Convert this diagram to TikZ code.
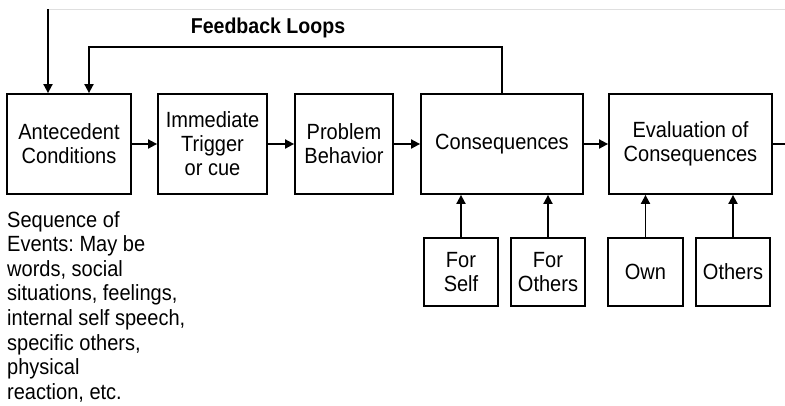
\documentclass[tikz,border=0pt]{standalone}
\usepackage{fontspec}
\setmainfont[FakeStretch=0.91]{Liberation Sans}
\usetikzlibrary{arrows.meta}
\frenchspacing
\tikzset{
  box/.style={draw, line width=1.8pt, inner sep=0pt, align=center,
    font=\fontsize{22}{24}\selectfont},
  link/.style={line width=1.8pt, -{Triangle[length=9pt,width=9pt]}},
  wire/.style={line width=1.8pt},
}
\begin{document}
\begin{tikzpicture}[x=1pt,y=-1pt]
\useasboundingbox (0,0) rectangle (785,405);
% faint top edge rule
\draw[gray!25, line width=0.8pt] (48,9) -- (785,9);

% main chain of boxes
\node[box, minimum width=124pt, minimum height=100pt] (ante) at (69,144) {Antecedent\\Conditions};
\node[box, minimum width=109pt, minimum height=100pt] (trig) at (212.5,144) {Immediate\\Trigger\\or cue};
\node[box, minimum width=98pt, minimum height=100pt] (prob) at (344,144) {Problem\\Behavior};
\node[box, minimum width=162pt, minimum height=100pt] (cons) at (502,144) {Consequences};
\node[box, minimum width=163pt, minimum height=100pt] (eval) at (690.5,144) {Evaluation of\\Consequences};

% lower boxes
\node[box, minimum width=74pt, minimum height=68pt] (self) at (461,272) {For\\Self};
\node[box, minimum width=74pt, minimum height=68pt] (othr) at (548,272) {For\\Others};
\node[box, minimum width=75pt, minimum height=68pt] (own) at (645.5,272) {Own};
\node[box, minimum width=74pt, minimum height=68pt] (oths) at (733,272) {Others};

% description below the first box
\node[anchor=north west, align=left, inner sep=0pt,
  font=\fontsize{22}{24.6}\selectfont] (seq) at (7,211)
  {Sequence of\\Events: May be\\words, social\\situations, feelings,\\internal self speech,\\specific others,\\physical\\reaction, etc.};

% title of the loop
\node[font=\bfseries\fontsize{21.5}{24}\selectfont, inner sep=0pt] (fb) at (268,28) {Feedback Loops};

% helper points
\coordinate (topin) at (48,9);
\coordinate (loopL) at (89,47);
\coordinate (loopR) at (502,47);
\coordinate (exit) at (785,144);

% chain arrows
\draw[link] (ante) -- (trig);
\draw[link] (trig) -- (prob);
\draw[link] (prob) -- (cons);
\draw[link] (cons) -- (eval);
\draw[wire] (eval.east) -- (exit);

% incoming arrow and feedback loop
\draw[link] (topin) -- (topin |- ante.north);
\draw[wire, line cap=rect] (cons.north) -- (loopR) -- (loopL);
\draw[link] (loopL) -- (loopL |- ante.north);

% arrows from the lower boxes
\draw[link] (self) -- (self |- cons.south);
\draw[link] (othr) -- (othr |- cons.south);
\draw[link] (own) -- (own |- eval.south);
\draw[link] (oths) -- (oths |- eval.south);
\end{tikzpicture}
\end{document}
